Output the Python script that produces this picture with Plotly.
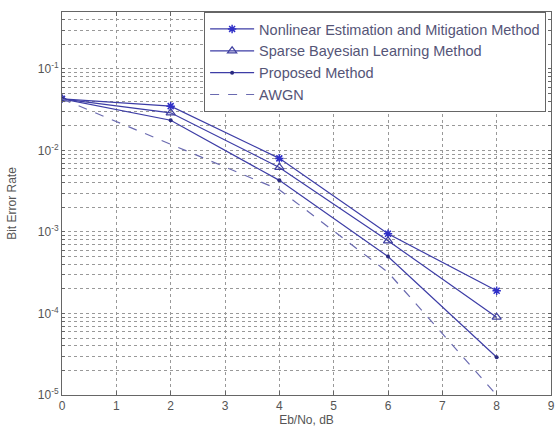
import plotly.graph_objects as go
import math

ebno = [0, 2, 4, 6, 8]
nemm = [0.043, 0.035, 8.0e-3, 9.5e-4, 1.9e-4]
sbl = [0.043, 0.029, 6.2e-3, 7.8e-4, 9.0e-5]
proposed = [0.043, 0.0235, 4.3e-3, 5.0e-4, 2.9e-5]
awgn = [0.043, 0.012, 3.3e-3, 3.2e-4, 1.0e-5]

names = ["Nonlinear Estimation and Mitigation Method",
         "Sparse Bayesian Learning Method",
         "Proposed Method",
         "AWGN"]

x_ticks = list(range(0, 10))
decades = [-5, -4, -3, -2, -1]
decade_labels = ["10<sup>-5</sup>", "10<sup>-4</sup>", "10<sup>-3</sup>", "10<sup>-2</sup>", "10<sup>-1</sup>"]
mantissas = [1, 2, 3, 4, 5, 6, 7, 8, 9]

y_tickvals = []
y_ticktext = []
for d, lab in zip(decades, decade_labels):
    for m in mantissas:
        v = m * 10.0 ** d
        if v <= 0.5 + 1e-12:
            y_tickvals.append(v)
            y_ticktext.append(lab if m == 1 else "")

line_col = "#3d3da6"
fig = go.Figure()
fig.add_trace(go.Scatter(x=ebno, y=nemm, name=names[0], mode="lines+markers",
                         line=dict(color=line_col, width=1.2),
                         marker=dict(symbol="asterisk-open", size=7, color="#3030c8", line=dict(width=1.5, color="#3030c8"))))
fig.add_trace(go.Scatter(x=ebno, y=sbl, name=names[1], mode="lines+markers",
                         line=dict(color=line_col, width=1.2),
                         marker=dict(symbol="triangle-up-open", size=8, color="#4040a0", line=dict(width=1.2))))
fig.add_trace(go.Scatter(x=ebno, y=proposed, name=names[2], mode="lines+markers",
                         line=dict(color=line_col, width=1.2),
                         marker=dict(symbol="circle", size=4, color="#2a2a80")))
fig.add_trace(go.Scatter(x=ebno, y=awgn, name=names[3], mode="lines",
                         line=dict(color="#6a6ab0", width=1.2, dash="dash")))

tick_font = dict(family="Liberation Sans, Arial, sans-serif", size=12, color="#555555")
title_font = dict(family="Liberation Sans, Arial, sans-serif", size=12, color="#555555")
fig.update_layout(
    width=560, height=435,
    margin=dict(l=62, r=5, t=12, b=40),
    paper_bgcolor="white", plot_bgcolor="white",
    font=tick_font,
    showlegend=True,
    legend=dict(x=0.99, y=1.0, xanchor="right", yanchor="top",
                bgcolor="white", bordercolor="#666666", borderwidth=1,
                font=dict(family="Liberation Sans, Arial, sans-serif", size=14.5, color="#555577"),
                itemwidth=44, tracegroupgap=0),
    xaxis=dict(range=[0, 9], tickvals=x_ticks, ticks="inside", ticklen=4, tickcolor="#666",
               tickfont=tick_font,
               showline=True, linecolor="#666666", linewidth=1, mirror="ticks",
               showgrid=True, gridcolor="#999999", griddash="dot", gridwidth=1,
               zeroline=False, title=dict(text="Eb/No, dB", font=title_font, standoff=3)),
    yaxis=dict(type="log", range=[-5, math.log10(0.5)], tickvals=y_tickvals, ticktext=y_ticktext,
               tickfont=tick_font,
               ticks="inside", ticklen=3, tickcolor="#666",
               showline=True, linecolor="#666666", linewidth=1, mirror="ticks",
               showgrid=True, gridcolor="#999999", griddash="dot", gridwidth=1,
               zeroline=False, title=dict(text="Bit Error Rate", font=title_font, standoff=18)),
)

fig.write_html("out.html", config={"displayModeBar": False},
               post_script="document.body.style.margin='0';document.body.style.overflow='hidden';")
